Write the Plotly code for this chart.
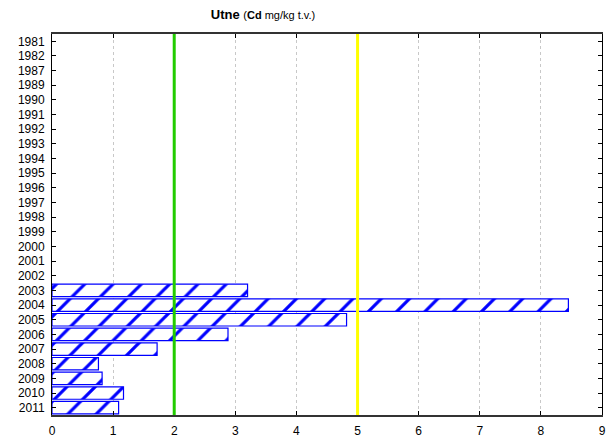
import plotly.graph_objects as go

years = ["1981", "1982", "1987", "1989", "1990", "1991", "1992", "1993", "1994",
         "1995", "1996", "1997", "1998", "1999", "2000", "2001", "2002", "2003",
         "2004", "2005", "2006", "2007", "2008", "2009", "2010", "2011"]
bar_years = ["2003", "2004", "2005", "2006", "2007", "2008", "2009", "2010", "2011"]
cd_values = [3.2, 8.45, 4.82, 2.88, 1.72, 0.76, 0.82, 1.17, 1.09]
limit_values = [2, 5]
limit_colors = ["#22cc00", "#ffff00"]
x_ticks = [0, 1, 2, 3, 4, 5, 6, 7, 8, 9]

fig = go.Figure()
fig.add_trace(go.Bar(
    y=bar_years, x=cd_values, orientation="h",
    marker=dict(color="white", line=dict(color="blue", width=1.2),
                pattern=dict(shape="/", fgcolor="blue", bgcolor="white",
                             fgopacity=1, size=20, solidity=0.16)),
    showlegend=False,
))

for v, c in zip(limit_values, limit_colors):
    fig.add_shape(type="line", xref="x", yref="paper", x0=v, x1=v, y0=0, y1=1,
                  line=dict(color=c, width=3), layer="above")

fig.update_layout(
    width=615, height=441,
    margin=dict(l=52, r=13, t=34, b=26, autoexpand=False),
    paper_bgcolor="white", plot_bgcolor="white",
    font=dict(family="Liberation Sans, Arial, sans-serif", size=12, color="black"),
    bargap=0.15,
    title=dict(text="<b>Utne</b> <span style='font-size:11px'>(<b>Cd</b> mg/kg t.v.)</span>",
               x=263/615, xanchor="center", y=1 - 14/441, yanchor="middle",
               font=dict(size=13)),
)
fig.update_xaxes(range=[0, 9], tickvals=x_ticks, showgrid=True, gridcolor="#c8c8c8",
                 griddash="dot", gridwidth=1, showline=True, linecolor="#333333",
                 linewidth=2, mirror="ticks", ticks="inside", ticklen=4,
                 tickcolor="black", zeroline=False, ticklabelstandoff=4,
                 automargin=False)
fig.update_yaxes(categoryorder="array", categoryarray=years, type="category",
                 range=[len(years) - 0.5, -0.5], tickvals=years, ticktext=years,
                 showgrid=False, showline=True,
                 linecolor="black", linewidth=1, mirror="ticks", ticks="inside",
                 ticklen=4, tickcolor="black", ticklabelstandoff=4,
                 automargin=False)

fig.write_html("out.html", config={"displayModeBar": False},
               post_script="document.body.style.margin='0';")
